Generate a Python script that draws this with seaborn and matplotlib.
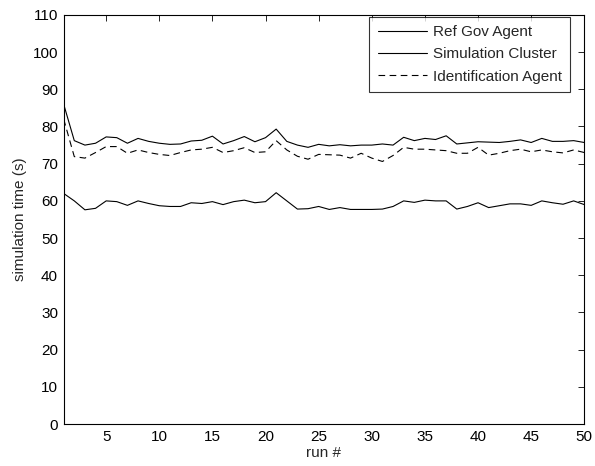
import matplotlib
matplotlib.use("Agg")
import matplotlib.pyplot as plt
import seaborn as sns
import pandas as pd

runs = list(range(1, 51))

ref_gov_agent = [86, 76.2, 75, 75.5, 77.2, 77, 75.5, 76.8, 76, 75.5,
                 75.2, 75.3, 76.1, 76.3, 77.4, 75.3, 76.2, 77.3, 75.9, 77,
                 79.3, 76, 75, 74.4, 75.2, 74.8, 75.1, 74.8, 75, 75,
                 75.3, 75, 77.1, 76.2, 76.8, 76.5, 77.5, 75.3, 75.6, 75.9,
                 75.8, 75.7, 76, 76.4, 75.7, 76.8, 76, 76, 76.2, 75.7]

simulation_cluster = [62, 60, 57.6, 58, 60, 59.8, 58.8, 60, 59.3, 58.7,
                      58.5, 58.5, 59.5, 59.3, 59.8, 59, 59.8, 60.2, 59.5, 59.8,
                      62.2, 60, 57.8, 57.9, 58.5, 57.7, 58.2, 57.7, 57.7, 57.7,
                      57.8, 58.5, 60, 59.6, 60.2, 60, 60, 57.8, 58.5, 59.5,
                      58.2, 58.7, 59.2, 59.2, 58.8, 60, 59.5, 59.1, 60, 59]

identification_agent = [82, 71.9, 71.5, 73, 74.6, 74.6, 72.8, 73.7, 73, 72.5,
                        72.2, 73, 73.7, 73.9, 74.4, 73, 73.5, 74.3, 73, 73.2,
                        76.2, 73.7, 72, 71.2, 72.5, 72.4, 72.3, 71.5, 72.8, 71.5,
                        70.6, 72.2, 74.4, 73.9, 73.9, 73.7, 73.5, 72.8, 72.8, 74.4,
                        72.3, 72.8, 73.5, 73.9, 73.2, 73.7, 73.2, 72.9, 73.7, 73]

series_names = ["Ref Gov Agent", "Simulation Cluster", "Identification Agent"]
x_ticks = list(range(5, 51, 5))
y_ticks = list(range(0, 111, 10))

sns.set_theme(style="white")
plt.rcParams["font.family"] = ["Liberation Sans", "DejaVu Sans"]
plt.rcParams["font.size"] = 11

df = pd.concat([
    pd.DataFrame({"run": runs, "time": ref_gov_agent, "series": series_names[0]}),
    pd.DataFrame({"run": runs, "time": simulation_cluster, "series": series_names[1]}),
    pd.DataFrame({"run": runs, "time": identification_agent, "series": series_names[2]}),
])

fig = plt.figure(figsize=(5.95, 4.66), dpi=100)
ax = fig.add_axes([0.107, 0.090, 0.875, 0.878])

styles = ["-", "-", "--"]
for name, ls in zip(series_names, styles):
    sub = df[df["series"] == name]
    sns.lineplot(data=sub, x="run", y="time", ax=ax, color="black",
                 linewidth=0.8, linestyle=ls, label=name)

for line in ax.get_lines():
    if line.get_linestyle() == "--":
        line.set_dashes([6, 4])

ax.set_xlim(1, 50)
ax.set_ylim(0, 110)
ax.set_xticks(x_ticks)
ax.set_yticks(y_ticks)
ax.set_xlabel("run #", fontsize=11, labelpad=2)
ax.set_ylabel("simulation time (s)", fontsize=11, labelpad=4)
ax.tick_params(direction="in", length=4, width=0.6, top=True, right=True,
               labelsize=11, colors="black", pad=4)
for sp in ax.spines.values():
    sp.set_visible(True)
    sp.set_color("black")
    sp.set_linewidth(0.8)

leg = ax.legend(loc="upper right", bbox_to_anchor=(0.973, 0.996),
                borderaxespad=0, fontsize=11, frameon=True, fancybox=False,
                borderpad=0.55, handlelength=3.2, labelspacing=0.55,
                handletextpad=0.4)
leg.get_frame().set_edgecolor("black")
leg.get_frame().set_linewidth(0.8)
for h in leg.get_lines():
    h.set_linewidth(0.8)
leg.get_lines()[2].set_linestyle("--")
leg.get_lines()[2].set_dashes([6, 4])

fig.savefig("out.png", dpi=100, facecolor="white")
